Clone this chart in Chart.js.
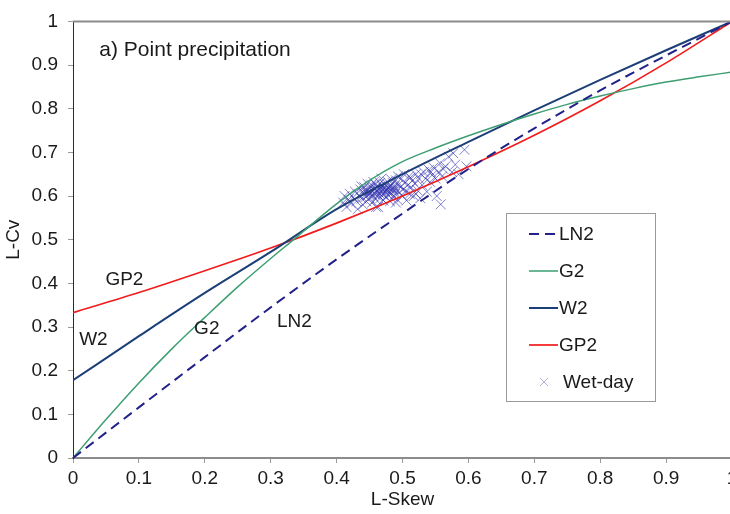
<!DOCTYPE html>
<html>
<head>
<meta charset="utf-8">
<script src="https://cdn.jsdelivr.net/npm/chart.js@4.4.1/dist/chart.umd.min.js"></script>
<style>
  html, body { margin: 0; padding: 0; overflow: hidden; background: #fff; }
  canvas { display: block; }
</style>
</head>
<body>
<canvas id="chartCanvas" width="745" height="514"></canvas>
<script>
// tick labels
const xTickLabels = ["0", "0.1", "0.2", "0.3", "0.4", "0.5", "0.6", "0.7", "0.8", "0.9", "1"];
const yTickLabels = ["0", "0.1", "0.2", "0.3", "0.4", "0.5", "0.6", "0.7", "0.8", "0.9", "1"];

// theoretical curves (L-Skew, L-Cv)
const ln2Skew = [0, 0.1, 0.2, 0.3, 0.4, 0.5, 0.6, 0.7, 0.8, 0.9, 1];
const ln2Cv   = [0, 0.116, 0.231, 0.345, 0.455, 0.56, 0.662, 0.755, 0.842, 0.922, 1];

const g2Skew = [0, 0.05, 0.1, 0.15, 0.2, 0.25, 0.3, 0.333, 0.4, 0.45, 0.5, 0.55, 0.6, 0.65, 0.7, 0.75, 0.8, 0.85, 0.9, 0.95, 1];
const g2Cv   = [0, 0.088, 0.172, 0.25, 0.322, 0.392, 0.457, 0.498, 0.582, 0.636, 0.679, 0.71, 0.738, 0.764, 0.788, 0.81, 0.829, 0.846, 0.861, 0.873, 0.884];

const w2Skew = [0, 0.1, 0.2, 0.3, 0.4, 0.5, 0.6, 0.7, 0.8, 0.9, 1];
const w2Cv   = [0.178, 0.279, 0.378, 0.472, 0.57, 0.65, 0.724, 0.796, 0.866, 0.934, 1];

const gp2Skew = [0, 0.1, 0.2, 0.3, 0.4, 0.5, 0.6, 0.7, 0.8, 0.9, 1];
const gp2Cv   = [0.333, 0.379, 0.429, 0.481, 0.538, 0.6, 0.667, 0.739, 0.818, 0.905, 1];

// wet-day sample L-moments
const wetSkew = [
  0.410, 0.412, 0.415, 0.418, 0.420, 0.422, 0.425, 0.428, 0.430, 0.432,
  0.434, 0.436, 0.438, 0.440, 0.440, 0.442, 0.444, 0.445, 0.446, 0.448,
  0.450, 0.450, 0.452, 0.453, 0.454, 0.455, 0.456, 0.457, 0.458, 0.459,
  0.460, 0.461, 0.462, 0.463, 0.464, 0.465, 0.466, 0.467, 0.468, 0.469,
  0.470, 0.471, 0.472, 0.473, 0.474, 0.475, 0.476, 0.477, 0.478, 0.479,
  0.480, 0.481, 0.482, 0.483, 0.484, 0.485, 0.486, 0.487, 0.488, 0.489,
  0.490, 0.491, 0.492, 0.494, 0.495, 0.497, 0.498, 0.500, 0.501, 0.503,
  0.505, 0.506, 0.508, 0.510, 0.511, 0.513, 0.515, 0.517, 0.519, 0.520,
  0.522, 0.525, 0.527, 0.530, 0.532, 0.535, 0.537, 0.540, 0.542, 0.545,
  0.547, 0.550, 0.552, 0.555, 0.557, 0.558, 0.560, 0.565, 0.570, 0.575,
  0.577, 0.580, 0.585, 0.594, 0.597, 0.460, 0.490, 0.520, 0.438, 0.447,
  0.456, 0.468, 0.474, 0.483, 0.493, 0.502, 0.512, 0.528, 0.543, 0.562,
  0.443, 0.451, 0.459, 0.466, 0.472, 0.479, 0.486, 0.449, 0.463, 0.477
];
const wetCv = [
  0.585, 0.600, 0.575, 0.592, 0.605, 0.583, 0.597, 0.610, 0.588, 0.570,
  0.602, 0.615, 0.594, 0.580, 0.608, 0.620, 0.598, 0.588, 0.612, 0.603,
  0.618, 0.595, 0.607, 0.625, 0.585, 0.600, 0.614, 0.606, 0.628, 0.593,
  0.611, 0.620, 0.600, 0.575, 0.616, 0.606, 0.630, 0.596, 0.612, 0.622,
  0.604, 0.590, 0.618, 0.627, 0.609, 0.598, 0.615, 0.633, 0.603, 0.620,
  0.611, 0.588, 0.624, 0.606, 0.617, 0.630, 0.598, 0.612, 0.622, 0.605,
  0.636, 0.614, 0.592, 0.626, 0.608, 0.620, 0.640, 0.600, 0.615, 0.630,
  0.612, 0.590, 0.625, 0.645, 0.605, 0.620, 0.635, 0.600, 0.628, 0.650,
  0.614, 0.640, 0.595, 0.625, 0.655, 0.640, 0.610, 0.660, 0.632, 0.648,
  0.665, 0.640, 0.600, 0.655, 0.675, 0.581, 0.645, 0.668, 0.690, 0.655,
  0.698, 0.672, 0.650, 0.706, 0.668, 0.575, 0.585, 0.605, 0.622, 0.628,
  0.632, 0.640, 0.625, 0.638, 0.645, 0.650, 0.642, 0.650, 0.655, 0.662,
  0.610, 0.612, 0.617, 0.619, 0.613, 0.618, 0.616, 0.605, 0.609, 0.611
];

// curve name labels placed inside the plot (data coordinates)
const curveLabelText = ["GP2", "W2", "G2", "LN2"];
const curveLabelSkew = [0.078, 0.031, 0.203, 0.336];
const curveLabelCv   = [0.408, 0.270, 0.295, 0.313];

const toPoints = (xs, ys) => xs.map((v, i) => ({ x: v, y: ys[i] }));

const FONT = '"Liberation Sans", Arial, sans-serif';
const TEXT = "#1a1a1a";

document.addEventListener("DOMContentLoaded", () => {
  const ctx = document.getElementById("chartCanvas").getContext("2d");

  // top frame line, in-plot labels and the boxed legend
  const extrasPlugin = {
    id: "extras",
    afterDraw(chart) {
      const { ctx, chartArea: a, scales: { x, y } } = chart;
      ctx.save();
      ctx.strokeStyle = "#8c8c8c";
      ctx.lineWidth = 2;
      ctx.beginPath();
      ctx.moveTo(a.left, a.top);
      ctx.lineTo(a.right, a.top);
      ctx.stroke();

      ctx.fillStyle = TEXT;
      ctx.textBaseline = "middle";
      ctx.textAlign = "left";
      ctx.font = "21px " + FONT;
      ctx.fillText("a) Point precipitation", x.getPixelForValue(0.04), y.getPixelForValue(0.934));

      ctx.font = "19px " + FONT;
      ctx.textAlign = "center";
      curveLabelText.forEach((t, i) => {
        ctx.fillText(t, x.getPixelForValue(curveLabelSkew[i]), y.getPixelForValue(curveLabelCv[i]));
      });

      // legend
      const bx = 506.5, by = 213.5, bw = 149, bh = 188;
      ctx.fillStyle = "#fff";
      ctx.fillRect(bx, by, bw, bh);
      ctx.strokeStyle = "#9a9a9a";
      ctx.lineWidth = 1;
      ctx.strokeRect(bx, by, bw, bh);
      const rows = [234, 271, 308, 345, 382];
      chart.data.datasets.forEach((ds, i) => {
        const ry = rows[i];
        if (ds.showLine) {
          ctx.strokeStyle = ds.borderColor;
          ctx.lineWidth = ds.borderWidth;
          ctx.setLineDash(ds.borderDash || []);
          ctx.beginPath();
          ctx.moveTo(529, ry);
          ctx.lineTo(558, ry);
          ctx.stroke();
          ctx.setLineDash([]);
        } else {
          ctx.strokeStyle = "rgba(120,120,200,0.6)";
          ctx.lineWidth = 1;
          ctx.beginPath();
          ctx.moveTo(540, ry - 4); ctx.lineTo(548, ry + 4);
          ctx.moveTo(548, ry - 4); ctx.lineTo(540, ry + 4);
          ctx.stroke();
        }
        ctx.fillStyle = TEXT;
        ctx.textAlign = "left";
        ctx.font = "19px " + FONT;
        ctx.fillText(ds.label, ds.showLine ? 559 : 563, ry + 1);
      });
      ctx.restore();
    },
  };

  const curve = (label, xs, ys, color, width, dash) => ({
    label,
    data: toPoints(xs, ys),
    showLine: true,
    borderColor: color,
    backgroundColor: color,
    borderWidth: width,
    borderDash: dash,
    pointRadius: 0,
    cubicInterpolationMode: "monotone",
    fill: false,
  });

  new Chart(ctx, {
    type: "scatter",
    data: {
      datasets: [
        curve("LN2", ln2Skew, ln2Cv, "#22228a", 2, [10, 6]),
        curve("G2", g2Skew, g2Cv, "#3d9e72", 1.5, []),
        curve("W2", w2Skew, w2Cv, "#1d3f78", 2, []),
        curve("GP2", gp2Skew, gp2Cv, "#f21c1c", 1.7, []),
        {
          label: "Wet-day",
          data: toPoints(wetSkew, wetCv),
          showLine: false,
          pointStyle: "crossRot",
          pointRadius: 7,
          pointBorderWidth: 1,
          borderColor: "rgba(45,45,175,0.6)",
          backgroundColor: "rgba(45,45,175,0.6)",
        },
      ],
    },
    options: {
      responsive: false,
      animation: false,
      events: [],
      layout: { padding: { top: 17, right: 13, left: 0, bottom: 0 } },
      plugins: { legend: { display: false }, tooltip: { enabled: false } },
      scales: {
        x: {
          type: "linear",
          min: 0,
          max: 1,
          afterFit: (s) => { s.height = 56; },
          border: { display: true, color: "#8c8c8c", width: 2 },
          grid: { display: true, drawOnChartArea: false, drawTicks: true, tickLength: 5, color: "#9a9a9a" },
          ticks: {
            stepSize: 0.1,
            padding: 4,
            color: TEXT,
            font: { family: FONT, size: 19 },
            maxRotation: 0,
            callback: (v, i) => xTickLabels[i],
          },
          title: { display: true, text: "L-Skew", color: TEXT, font: { family: FONT, size: 19 }, padding: { top: 0, bottom: 3 } },
        },
        y: {
          type: "linear",
          min: 0,
          max: 1,
          afterFit: (s) => { s.width = 73; },
          border: { display: true, color: "#2a2a2a", width: 1 },
          grid: { display: true, drawOnChartArea: false, drawTicks: true, tickLength: 5, color: "#9a9a9a" },
          ticks: {
            stepSize: 0.1,
            padding: 10,
            color: TEXT,
            font: { family: FONT, size: 19 },
            callback: (v, i) => yTickLabels[i],
          },
          title: { display: true, text: "L-Cv", color: TEXT, font: { family: FONT, size: 19 }, padding: { top: 2, bottom: 0 } },
        },
      },
    },
    plugins: [extrasPlugin],
  });
});
</script>
</body>
</html>
